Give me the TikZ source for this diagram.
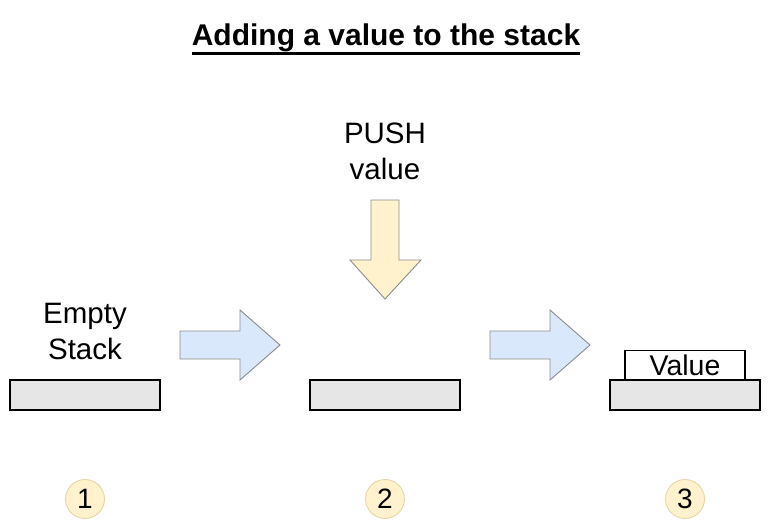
\documentclass[tikz,border=0pt]{standalone}
\usepackage{fontspec}
\setmainfont{Liberation Sans}
\definecolor{basegray}{HTML}{E6E6E6}
\definecolor{arrowblue}{HTML}{DAE8FC}
\definecolor{arrowyellow}{HTML}{FFF2CC}
\definecolor{edgegray}{HTML}{8C8C8C}
\definecolor{circedge}{HTML}{E3D3A3}
\begin{document}
\begin{tikzpicture}[x=1pt,y=-1pt,
  stackbase/.style={draw=black,line width=1.2pt,fill=basegray},
  bluearrow/.style={draw=edgegray,line width=0.9pt,fill=arrowblue,line join=miter},
  yellowarrow/.style={draw=edgegray,line width=0.9pt,fill=arrowyellow,line join=miter},
  label/.style={font=\fontsize{29.5}{36}\selectfont,align=center,inner sep=0pt},
  stepnum/.style={circle,draw=circedge,line width=0.8pt,fill=arrowyellow,minimum size=39pt,inner sep=0pt,font=\fontsize{28}{30}\selectfont}]
\useasboundingbox (0,0) rectangle (771,521);
% title
\node[inner sep=0pt,font=\bfseries\fontsize{30}{36}\selectfont] (title) at (386,38) {Adding a value to the stack};
\draw[line width=2.6pt] (title.base west) ++(0,8) coordinate (ulA) -- (title.base east |- ulA);
% stack bases
\draw[stackbase] (10,380) rectangle (160,410);
\node (base1) at (85,395) {};
\draw[stackbase] (310,380) rectangle (460,410);
\node (base2) at (385,395) {};
\draw[stackbase] (610,380) rectangle (760,410);
\node (base3) at (685,395) {};
\node[draw=black,line width=1.2pt,fill=white,minimum width=120pt,minimum height=29pt,inner sep=0pt,font=\fontsize{28.5}{34}\selectfont,anchor=south] (valuebox) at (685,380) {Value};
% labels
\node[label] (empty) at (85,331) {Empty\\Stack};
\node[label] (push) at (385,151) {PUSH\\value};
% right arrows
\draw[bluearrow] (180,331) -- (240,331) -- (240,310) -- (280,345) -- (240,380) -- (240,359) -- (180,359) -- cycle;
\draw[bluearrow] (490,331) -- (550,331) -- (550,310) -- (590,345) -- (550,380) -- (550,359) -- (490,359) -- cycle;
% down arrow
\draw[yellowarrow] (371,200) -- (399,200) -- (399,260) -- (421,260) -- (385,299) -- (350,260) -- (371,260) -- cycle;
% step numbers
\node[stepnum] (n1) at (85,499) {1};
\node[stepnum] (n2) at (385,499) {2};
\node[stepnum] (n3) at (685,499) {3};
\end{tikzpicture}
\end{document}
